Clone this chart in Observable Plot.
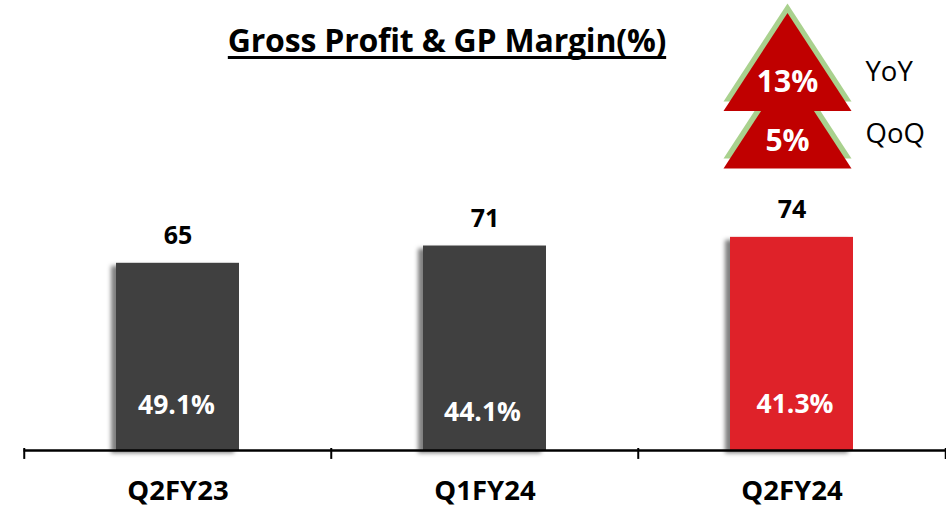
<!DOCTYPE html>
<html>
<head>
<meta charset="utf-8">
<script src="https://cdn.jsdelivr.net/npm/d3@7"></script>
<script src="https://cdn.jsdelivr.net/npm/@observablehq/plot@0.6"></script>
<style>
  html, body { margin: 0; padding: 0; background: #fff; }
  #wrap { position: relative; width: 946px; height: 512px; overflow: hidden; }
  #title { position: absolute; left: 0; top: 16px; width: 894px; margin: 0; text-align: center;
    font: 700 32px "Open Sans", sans-serif; letter-spacing: -0.2px; color: #000; line-height: 48px;
    text-decoration: underline; text-decoration-thickness: 2.5px; text-underline-offset: 4px;
    text-decoration-skip-ink: none; }
  svg { display: block; }
  g[aria-label="bar"] { filter: drop-shadow(-5px 3px 2px rgba(0,0,0,0.5)); }
</style>
</head>
<body>
<div id="wrap">
  <div id="title">Gross Profit &amp; GP Margin(%)</div>
</div>
<script>
const quarters = ["Q2FY23", "Q1FY24", "Q2FY24"];
const grossProfit = [65, 71, 74];
const margins = ["49.1%", "44.1%", "41.3%"];
const marginLevels = [15.6, 13.2, 16];
const marginShift = [-1.5, -2.5, 3];
const barColors = ["#404040", "#404040", "#df2229"];
const changes = ["13%", "5%"];
const changeLabels = ["YoY", "QoQ"];
const changeTextLevels = [127.8, 107.2];
const labelLevels = [131.3, 110];
const redLevels = [97.9, 117.9];
const greenLevels = [101.4, 121.2];

const font = '"Open Sans", sans-serif';
const bars = quarters.map((q, i) => ({q, v: grossProfit[i], m: margins[i], mv: marginLevels[i], c: barColors[i]}));
const annot = changes.map((t, i) => ({q: "Q2FY24", t, lab: changeLabels[i], ty: changeTextLevels[i], ly: labelLevels[i]}));

// Arrow-head triangle anchored at its base centre, 128 wide by 98 tall
const triangle = {
  draw(ctx, size) {
    const w = Math.sqrt(size);
    ctx.moveTo(0, -w * 98 / 128);
    ctx.lineTo(w / 2, 0);
    ctx.lineTo(-w / 2, 0);
    ctx.closePath();
  }
};
const tri = (level, fill) => Plot.dot([{q: "Q2FY24", level}], {
  x: "q", y: "level", dx: -4.5, symbol: triangle, fill, r: 128 / Math.sqrt(Math.PI)
});

const half = 153.75; // half a band step
const chart = Plot.plot({
  width: 946, height: 512,
  marginTop: 0, marginRight: 0, marginBottom: 62, marginLeft: 23.5,
  x: {type: "band", domain: quarters, paddingInner: 0.6, paddingOuter: 0.3, align: 0.5, axis: null},
  y: {type: "linear", domain: [0, 450 / 2.88], axis: null},
  color: {type: "identity"},
  style: {fontFamily: font, background: "transparent"},
  marks: [
    Plot.barY(bars, {x: "q", y: "v", fill: "c"}),
    Plot.text(bars, {x: "q", y: "v", text: d => String(d.v), dy: -27, fontSize: 25, fontWeight: 700, fill: "#000"}),
    ...bars.map((b, i) => Plot.text([b], {x: "q", y: "mv", text: "m", dx: marginShift[i], fontSize: 26.5, fontWeight: 700, fill: "#fff"})),
    Plot.ruleY([0], {stroke: "#000", strokeWidth: 2.5}),
    Plot.ruleX(quarters, {x: d => d, y1: 0.7, y2: -3.1, dx: -half, stroke: "#000", strokeWidth: 2}),
    Plot.ruleX(quarters.slice(-1), {x: d => d, y1: 0.7, y2: -3.1, dx: half, stroke: "#000", strokeWidth: 2}),
    Plot.axisX({domain: quarters, anchor: "bottom", tickSize: 0, label: null, tickPadding: 0, fontSize: 27.5, fontWeight: 700, fill: "#000", dy: 30}),
    tri(greenLevels[0], "#a9d18e"),
    tri(redLevels[0], "#c00000"),
    tri(greenLevels[1], "#a9d18e"),
    tri(redLevels[1], "#c00000"),
    Plot.text(annot, {x: "q", y: "ty", text: "t", dx: -4.5, fontSize: 30, fontWeight: 700, fill: "#fff"}),
    Plot.text(annot, {x: "q", y: "ly", text: "lab", dx: 73.5, textAnchor: "start", fontSize: 27.5, fill: "#000"})
  ]
});
document.getElementById("wrap").appendChild(chart);
</script>
</body>
</html>
